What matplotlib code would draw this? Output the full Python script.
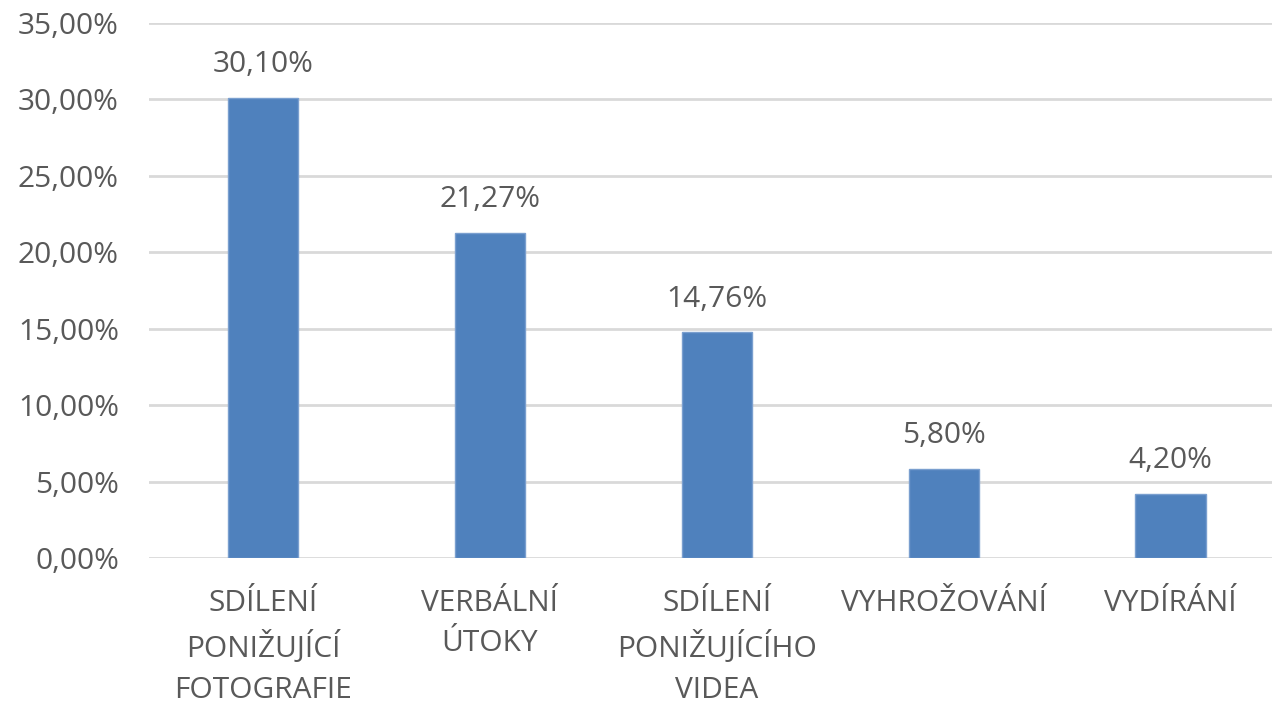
import matplotlib.pyplot as plt

categories = ['SDÍLENÍ\nPONIŽUJÍCÍ\nFOTOGRAFIE', 'VERBÁLNÍ\nÚTOKY',
              'SDÍLENÍ\nPONIŽUJÍCÍHO\nVIDEA', 'VYHROŽOVÁNÍ', 'VYDÍRÁNÍ']
values = [30.10, 21.27, 14.76, 5.80, 4.20]
yticks = [0, 5, 10, 15, 20, 25, 30, 35]

plt.rcParams['font.family'] = ['Open Sans', 'DejaVu Sans']
text_color = '#595959'
fs = 21.5

fig = plt.figure(figsize=(12.72, 7.03), dpi=100)
ax = fig.add_axes([0.1175, 0.2063, 0.892, 0.761])

x = range(len(categories))
ax.bar(x, values, width=0.31, color='#4f81bd', edgecolor='#7a9fcf', linewidth=1, zorder=3)

for xi, v in zip(x, values):
    ax.annotate(f'{v:.2f}%'.replace('.', ','), (xi, v), xytext=(0, 24), textcoords='offset points',
                ha='center', va='center', fontsize=fs, color=text_color)

ax.set_xlim(-0.5, len(categories) - 0.5)
ax.set_ylim(0, 35)
ax.set_yticks(yticks)
ax.set_yticklabels([f'{t:.2f}%'.replace('.', ',') for t in yticks], fontsize=fs, color=text_color)
ax.set_xticks(list(x))
ax.set_xticklabels(categories, fontsize=fs, color=text_color, linespacing=1.53)
ax.tick_params(axis='both', length=0)
ax.tick_params(axis='x', pad=22)
ax.tick_params(axis='y', pad=22)
ax.yaxis.grid(True, color='#d9d9d9', linewidth=2, zorder=0)
ax.set_axisbelow(True)
for s in ax.spines.values():
    s.set_visible(False)

fig.savefig('out.png', dpi=100)
